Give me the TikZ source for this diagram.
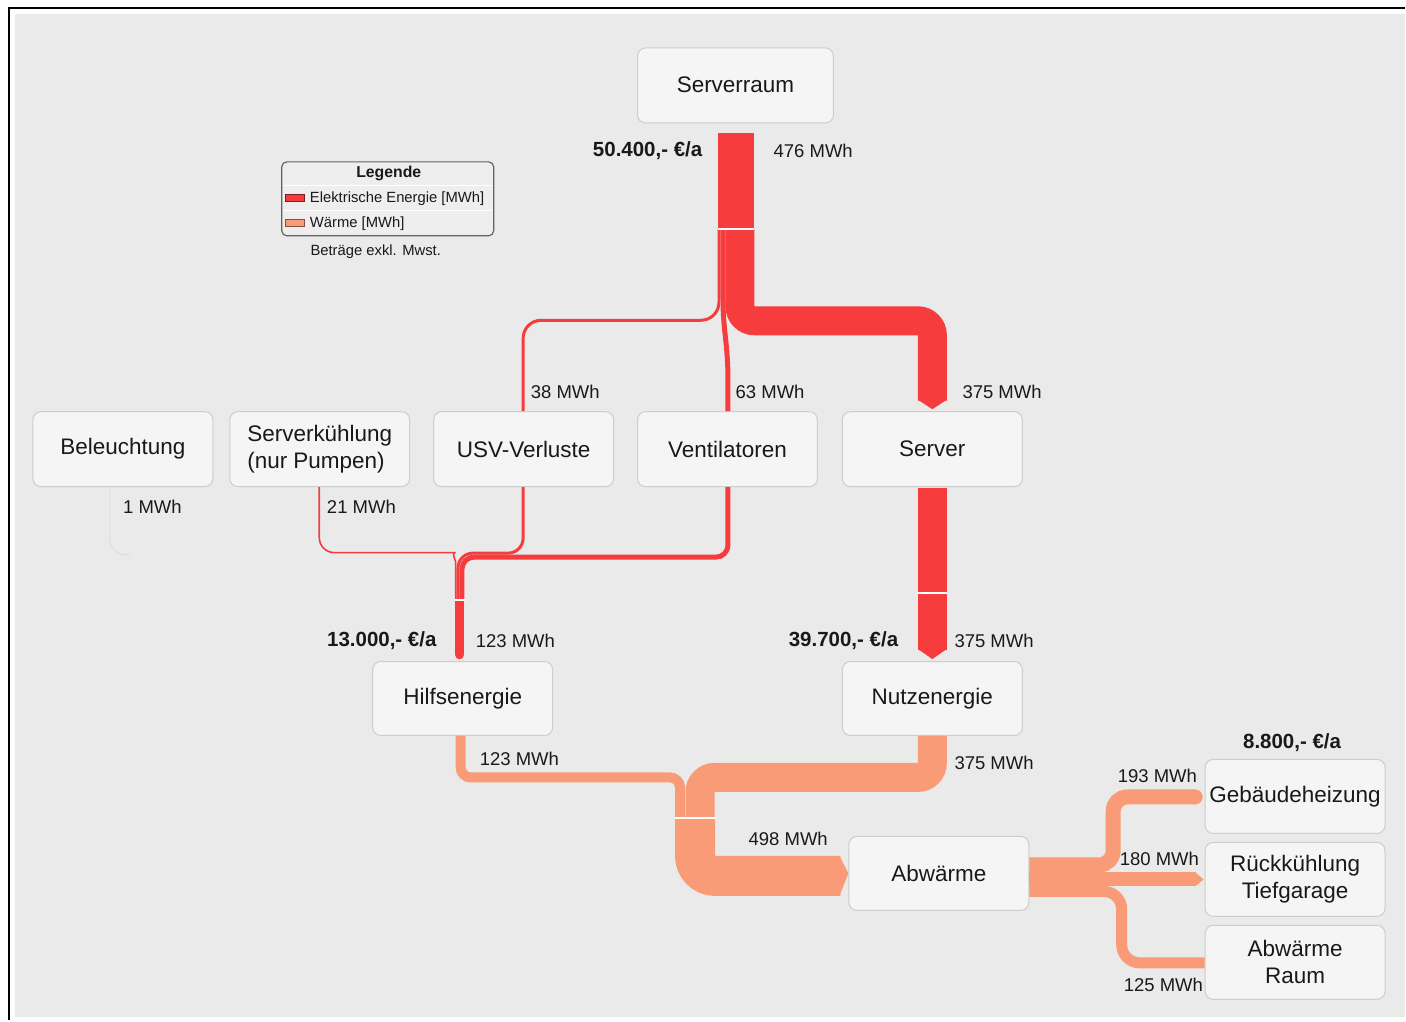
\documentclass[tikz,border=0pt]{standalone}
\usepackage{fontspec}
\setmainfont{Liberation Sans}
\usetikzlibrary{calc}
\definecolor{bg}{RGB}{234,234,234}
\definecolor{boxfill}{RGB}{245,245,245}
\definecolor{boxline}{RGB}{205,205,205}
\definecolor{elec}{RGB}{246,60,60}
\definecolor{heat}{RGB}{249,155,118}
\definecolor{txt}{RGB}{25,25,25}
\definecolor{legline}{RGB}{100,100,100}
\definecolor{swred}{RGB}{120,30,30}
\definecolor{swheat}{RGB}{130,80,60}
\definecolor{faint}{RGB}{222,222,222}
\definecolor{legfill}{RGB}{238,238,238}
\begin{document}
\begin{tikzpicture}[x=1pt,y=-1pt,
  box/.style={draw=boxline, fill=boxfill, line width=1pt, rounded corners=8pt,
    minimum width=180pt, minimum height=75pt, inner sep=0pt, text=txt,
    font=\fontsize{22.5}{27}\selectfont, align=center},
  lbl/.style={inner sep=0pt, text=txt, font=\fontsize{18.5}{22}\selectfont},
  cost/.style={inner sep=0pt, text=txt, font=\bfseries\fontsize{20.5}{22}\selectfont},
  legtxt/.style={inner sep=0pt, text=txt, font=\fontsize{14.8}{18}\selectfont},
  sep/.style={white, line width=2pt},
  eflow/.style={elec, line cap=butt},
  hflow/.style={heat, line cap=butt}
]
% background and frame
\fill[white] (0,0) rectangle (1406,1021);
\fill[bg] (15,14) rectangle (1406,1018);
\draw[black, line width=2pt] (9,1021) -- (9,8) -- (1406,8);

% nodes
\node[box, minimum width=196pt] (serverraum) at (736,85.5) {\raisebox{2pt}{Serverraum}};
\node[box] (beleuchtung) at (123,449.5) {Beleuchtung};
\node[box, align=left] (kuehl) at (320,449.5) {Serverkühlung\\(nur Pumpen)};
\node[box] (usv) at (524,449.5) {USV-Verluste};
\node[box] (vent) at (728,449.5) {Ventilatoren};
\node[box] (server) at (933,449.5) {\raisebox{2pt}{Server}};
\node[box, minimum height=74pt] (hilfs) at (463,699) {Hilfsenergie};
\node[box, minimum height=74pt] (nutz) at (933,699) {Nutzenergie};
\node[box, minimum height=74pt] (abw) at (939.5,874) {Abwärme};
\node[box, minimum height=74pt] (geb) at (1296,797) {Gebäudeheizung};
\node[box, minimum height=74pt] (rueck) at (1296,880) {Rückkühlung\\Tiefgarage};
\node[box, minimum height=74pt] (raum) at (1296,963) {Abwärme\\Raum};

% ---- electric flows ----
% Serverraum bar
\fill[elec] ($(serverraum.south)+(-18,10)$) rectangle (755,229);
% to Server
\draw[eflow, line width=29pt, rounded corners=14.5pt] (740.5,229) -- (740.5,321) -- (933,321) -- (933,401);
\fill[elec] (918.5,400) -- ([yshift=2pt]server.north) -- (947.5,400) -- cycle;
% to USV
\draw[eflow, line width=3pt, rounded corners=18pt] (719.5,229) -- (719.5,320.5) -- (523.5,320.5) -- (usv.north -| 523.5,0);
% to Ventilatoren
\draw[eflow, line width=5pt] (723.5,229) -- (723.5,300) .. controls (723.5,330) and (728.5,345) .. (728.5,380) -- (vent.north -| 728.5,0);
\draw[sep] (718,229) -- (755,229);

% Server -> Nutzenergie
\fill[elec] ($(server.south)+(-14.5,1)$) rectangle (947.5,650);
\fill[elec] (918.5,649.5) -- ([yshift=2pt]nutz.north) -- (947.5,649.5) -- cycle;
\draw[sep] (918,593) -- (948,593);

% into Hilfsenergie
\draw[faint, line width=1pt, rounded corners=15pt] (beleuchtung.south -| 110,0) -- (110,555) -- (130,555);
\draw[eflow, line width=1.6pt, rounded corners=15pt] (kuehl.south -| 319.5,0) -- (319.5,553) -- (440,553) .. controls (452,553) and (456,562) .. (456,577) -- (456,601);
\draw[eflow, line width=3pt, rounded corners=15pt] (usv.south -| 523.5,0) -- (523.5,553.5) -- (458.3,553.5) -- (458.3,601);
\draw[eflow, line width=5pt, rounded corners=12pt] (vent.south -| 728.5,0) -- (728.5,557.5) -- (462.3,557.5) -- (462.3,601);
\fill[elec] (455.2,600) rectangle (464.8,612);
\draw[eflow, line width=9.6pt, line cap=round] (460,606) -- (460,655);
\draw[sep] (455,600) -- (465,600);

% ---- heat flows ----
\draw[hflow, line width=10pt, rounded corners=10pt] (hilfs.south -| 461,0) -- (461,778) -- (680.5,778) -- (680.5,819);
\draw[hflow, line width=29pt, rounded corners=14.5pt] (nutz.south -| 933,0) -- (933,778) -- (700.5,778) -- (700.5,819);
\draw[hflow, line width=40pt, rounded corners=20pt] (695.5,818) -- (695.5,876.5) -- (841,876.5);
\fill[heat] (840,856.5) -- (abw.west) -- (840,896.5) -- cycle;
\draw[sep] (675,819) -- (716,819);

% Abwärme outputs
\draw[hflow, line width=15pt, rounded corners=14pt] (abw.east |- 0,865.5) -- (1114,865.5) -- (1114,797.5) -- (1196,797.5);
\fill[heat] (1196,797.5) circle[radius=7.5pt];
\draw[hflow, line width=14pt] (abw.east |- 0,880) -- (1197,880);
\fill[heat] (1196,873) -- ([xshift=-1pt]rueck.west) -- (1196,887) -- cycle;
\draw[hflow, line width=11pt, rounded corners=18pt] (abw.east |- 0,892) -- (1122.5,892) -- (1122.5,963.5) -- (raum.west |- 0,963.5);

% ---- labels ----
\node[cost, anchor=east] (c1) at (703,151) {50.400,- €/a};
\node[lbl, anchor=west] (m476) at (774,151) {476 MWh};
\node[lbl, anchor=west] (m38) at (531,392) {38 MWh};
\node[lbl, anchor=west] (m63) at (736,392) {63 MWh};
\node[lbl, anchor=west] (m375a) at (963,392) {375 MWh};
\node[lbl, anchor=west] (m1) at (123,507) {1 MWh};
\node[lbl, anchor=west] (m21) at (327,507) {21 MWh};
\node[cost, anchor=east] (c2) at (437,641) {13.000,- €/a};
\node[lbl, anchor=west] (m123a) at (476,641) {123 MWh};
\node[cost, anchor=east] (c3) at (899,641) {39.700,- €/a};
\node[lbl, anchor=west] (m375b) at (955,641) {375 MWh};
\node[lbl, anchor=west] (m123b) at (480,759) {123 MWh};
\node[lbl, anchor=west] (m375c) at (955,763) {375 MWh};
\node[lbl, anchor=west] (m498) at (749,839) {498 MWh};
\node[cost] (c4) at (1293,743) {8.800,- €/a};
\node[lbl, anchor=east] (m193) at (1198,776) {193 MWh};
\node[lbl, anchor=east] (m180) at (1200,859) {180 MWh};
\node[lbl, anchor=east] (m125) at (1204,986) {125 MWh};

% ---- legend ----
\node[draw=legline, fill=legfill, line width=1.2pt, rounded corners=5pt,
  minimum width=212pt, minimum height=74pt, inner sep=0pt] (legend) at (388,199) {};
\draw[white, line width=1pt] (283.5,186) -- (492.5,186);
\draw[white, line width=1pt] (283.5,211) -- (492.5,211);
\node[legtxt, font=\bfseries\fontsize{15.8}{18}\selectfont] (legtitle) at (389,174) {Legende};
\draw[draw=swred, fill=elec, line width=0.8pt] (286,195) rectangle (305,202);
\node[legtxt, anchor=west] (leg1) at (310,198.5) {Elektrische Energie [MWh]};
\draw[draw=swheat, fill=heat, line width=0.8pt] (286,220) rectangle (305,227);
\node[legtxt, anchor=west] (leg2) at (310,223.5) {Wärme [MWh]};
\node[legtxt] (mwst) at (376,252) {Beträge exkl. Mwst.};
\end{tikzpicture}
\end{document}
